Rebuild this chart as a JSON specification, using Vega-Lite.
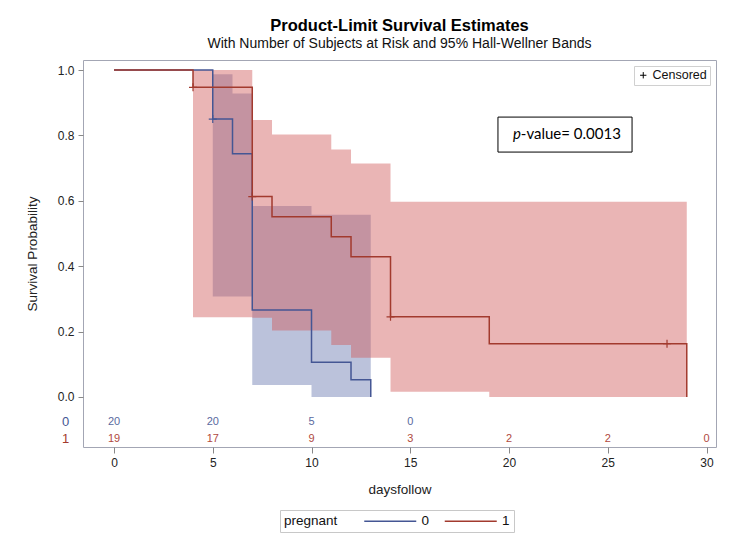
{
  "$schema": "https://vega.github.io/schema/vega-lite/v6.json",
  "width": 633,
  "height": 387,
  "autosize": {"type": "none"},
  "padding": {"left": 83, "top": 60, "right": 20, "bottom": 107},
  "background": "white",
  "title": {
    "text": "Product-Limit Survival Estimates",
    "subtitle": "With Number of Subjects at Risk and 95% Hall-Wellner Bands",
    "anchor": "middle",
    "font": "Liberation Sans",
    "fontSize": 16.5,
    "fontWeight": "bold",
    "color": "#000",
    "subtitleFont": "Liberation Sans",
    "subtitleFontSize": 14,
    "subtitleColor": "#111",
    "offset": 9,
    "subtitlePadding": 3
  },
  "config": {
    "view": {"stroke": "#a3a6b4", "strokeWidth": 1},
    "axis": {
      "labelFont": "Liberation Sans",
      "labelFontSize": 12,
      "labelColor": "#222",
      "titleFont": "Liberation Sans",
      "titleFontSize": 13.5,
      "titleFontWeight": "normal",
      "titleColor": "#222",
      "tickColor": "#888",
      "grid": false,
      "domain": false
    },
    "legend": {
      "labelFont": "Liberation Sans",
      "titleFont": "Liberation Sans"
    }
  },
  "datasets": {
    "surv": [
      {"t": 0, "s": 1, "pregnant": "0"},
      {"t": 5, "s": 0.85, "pregnant": "0"},
      {"t": 6, "s": 0.744, "pregnant": "0"},
      {"t": 7, "s": 0.266, "pregnant": "0"},
      {"t": 10, "s": 0.106, "pregnant": "0"},
      {"t": 12, "s": 0.053, "pregnant": "0"},
      {"t": 13, "s": 0, "pregnant": "0"},
      {"t": 0, "s": 1, "pregnant": "1"},
      {"t": 4, "s": 0.947, "pregnant": "1"},
      {"t": 7, "s": 0.613, "pregnant": "1"},
      {"t": 8, "s": 0.551, "pregnant": "1"},
      {"t": 11, "s": 0.49, "pregnant": "1"},
      {"t": 12, "s": 0.429, "pregnant": "1"},
      {"t": 14, "s": 0.245, "pregnant": "1"},
      {"t": 19, "s": 0.163, "pregnant": "1"},
      {"t": 29, "s": 0, "pregnant": "1"}
    ],
    "band": [
      {"t": 5, "lo": 0.307, "hi": 0.987, "pregnant": "0"},
      {"t": 6, "lo": 0.307, "hi": 0.928, "pregnant": "0"},
      {"t": 7, "lo": 0.037, "hi": 0.584, "pregnant": "0"},
      {"t": 10, "lo": 0, "hi": 0.557, "pregnant": "0"},
      {"t": 13, "lo": 0, "hi": 0.557, "pregnant": "0"},
      {"t": 4, "lo": 0.244, "hi": 1, "pregnant": "1"},
      {"t": 7, "lo": 0.242, "hi": 0.847, "pregnant": "1"},
      {"t": 8, "lo": 0.203, "hi": 0.803, "pregnant": "1"},
      {"t": 11, "lo": 0.159, "hi": 0.757, "pregnant": "1"},
      {"t": 12, "lo": 0.12, "hi": 0.714, "pregnant": "1"},
      {"t": 14, "lo": 0.016, "hi": 0.597, "pregnant": "1"},
      {"t": 19, "lo": 0, "hi": 0.597, "pregnant": "1"},
      {"t": 29, "lo": 0, "hi": 0.597, "pregnant": "1"}
    ],
    "cens": [
      {"t": 5, "s": 0.85, "pregnant": "0", "lab": "Censored"},
      {"t": 4, "s": 0.947, "pregnant": "1", "lab": "Censored"},
      {"t": 7, "s": 0.613, "pregnant": "1", "lab": "Censored"},
      {"t": 14, "s": 0.245, "pregnant": "1", "lab": "Censored"},
      {"t": 28, "s": 0.163, "pregnant": "1", "lab": "Censored"}
    ],
    "risk": [
      {"t": 0, "n": 20, "pregnant": "0"},
      {"t": 5, "n": 20, "pregnant": "0"},
      {"t": 10, "n": 5, "pregnant": "0"},
      {"t": 15, "n": 0, "pregnant": "0"},
      {"t": 0, "n": 19, "pregnant": "1"},
      {"t": 5, "n": 17, "pregnant": "1"},
      {"t": 10, "n": 9, "pregnant": "1"},
      {"t": 15, "n": 3, "pregnant": "1"},
      {"t": 20, "n": 2, "pregnant": "1"},
      {"t": 25, "n": 2, "pregnant": "1"},
      {"t": 30, "n": 0, "pregnant": "1"}
    ],
    "grp": [
      {"pregnant": "0"},
      {"pregnant": "1"}
    ],
    "pval": [
      {"p": "p", "rest": "-value= 0.0013"}
    ]
  },
  "layer": [
    {
      "data": {"name": "band"},
      "transform": [{"filter": "datum.pregnant === '0'"}],
      "mark": {"type": "area", "interpolate": "step-after", "color": "#6F7EB3", "opacity": 0.47},
      "encoding": {
        "x": {"field": "t", "type": "quantitative", "scale": {"domain": [-1.57, 30.48], "nice": false, "zero": false},
              "axis": {"title": "daysfollow", "values": [0, 5, 10, 15, 20, 25, 30], "tickSize": 6, "labelPadding": 4, "titlePadding": 14}},
        "y": {"field": "lo", "type": "quantitative", "scale": {"domain": [-0.153, 1.0306], "nice": false, "zero": false},
              "axis": {"title": "Survival Probability", "values": [0, 0.2, 0.4, 0.6, 0.8, 1.0], "format": ".1f", "tickSize": 5, "labelPadding": 4, "titlePadding": 18}},
        "y2": {"field": "hi"}
      }
    },
    {
      "data": {"name": "band"},
      "transform": [{"filter": "datum.pregnant === '1'"}],
      "mark": {"type": "area", "interpolate": "step-after", "color": "#D05B5B", "opacity": 0.45},
      "encoding": {
        "x": {"field": "t", "type": "quantitative", "title": "daysfollow"},
        "y": {"field": "lo", "type": "quantitative", "title": "Survival Probability"},
        "y2": {"field": "hi"}
      }
    },
    {
      "data": {"name": "surv"},
      "transform": [{"filter": "datum.pregnant === '0'"}],
      "mark": {"type": "line", "interpolate": "step-after", "strokeWidth": 1.5},
      "encoding": {
        "x": {"field": "t", "type": "quantitative", "title": "daysfollow"},
        "y": {"field": "s", "type": "quantitative", "title": "Survival Probability"},
        "color": {"field": "pregnant", "type": "nominal",
                  "scale": {"domain": ["0", "1"], "range": ["#445694", "#A23A2E"]},
                  "legend": {"orient": "none", "legendX": 197, "legendY": 450, "direction": "horizontal", "titleOrient": "left", "title": "pregnant",
                             "symbolType": "M-5.2,0H5.2", "symbolSize": 100, "symbolStrokeWidth": 1.5, "symbolOffset": 20,
                             "labelFontSize": 13.5, "titleFontSize": 13.5, "titleFontWeight": "normal", "titleColor": "#111", "labelColor": "#111",
                             "titlePadding": 25.5, "titleBaseline": "middle",
                             "strokeColor": "#c8c8c8", "padding": 4, "columnPadding": 11.5, "labelOffset": 24.5}}
      }
    },
    {
      "data": {"name": "surv"},
      "transform": [{"filter": "datum.pregnant === '1'"}],
      "mark": {"type": "line", "interpolate": "step-after", "strokeWidth": 1.5},
      "encoding": {
        "x": {"field": "t", "type": "quantitative", "title": "daysfollow"},
        "y": {"field": "s", "type": "quantitative", "title": "Survival Probability"},
        "color": {"field": "pregnant", "type": "nominal"}
      }
    },
    {
      "data": {"name": "cens"},
      "mark": {"type": "point", "filled": false, "strokeWidth": 1.2, "size": 64, "opacity": 1},
      "encoding": {
        "x": {"field": "t", "type": "quantitative", "title": "daysfollow"},
        "y": {"field": "s", "type": "quantitative", "title": "Survival Probability"},
        "shape": {"field": "lab", "type": "nominal",
                  "scale": {"domain": ["Censored"], "range": ["M-1,0H1M0,-1V1"]},
                  "legend": {"orient": "top-right", "title": null, "offset": 6, "padding": 3,
                             "strokeColor": "#d0d0d0", "symbolStrokeColor": "#000", "symbolStrokeWidth": 1,
                             "symbolSize": 40, "labelFontSize": 12.5, "labelColor": "#111", "labelOffset": 3}},
        "stroke": {"field": "pregnant", "type": "nominal",
                   "scale": {"domain": ["0", "1"], "range": ["#445694", "#A23A2E"]}, "legend": null}
      }
    },
    {
      "data": {"name": "risk"},
      "transform": [{"filter": "datum.pregnant === '0'"}],
      "mark": {"type": "text", "font": "Liberation Sans", "fontSize": 11, "color": "#5a6aa0", "baseline": "middle"},
      "encoding": {
        "x": {"field": "t", "type": "quantitative", "title": "daysfollow"},
        "y": {"datum": -0.0765},
        "text": {"field": "n", "type": "quantitative"}
      }
    },
    {
      "data": {"name": "risk"},
      "transform": [{"filter": "datum.pregnant === '1'"}],
      "mark": {"type": "text", "font": "Liberation Sans", "fontSize": 11, "color": "#B04A3E", "baseline": "middle"},
      "encoding": {
        "x": {"field": "t", "type": "quantitative", "title": "daysfollow"},
        "y": {"datum": -0.128},
        "text": {"field": "n", "type": "quantitative"}
      }
    },
    {
      "data": {"name": "grp"},
      "transform": [{"filter": "datum.pregnant === '0'"}],
      "mark": {"type": "text", "font": "Liberation Sans", "fontSize": 13, "color": "#445694", "baseline": "middle"},
      "encoding": {
        "x": {"datum": -2.45},
        "y": {"datum": -0.0765},
        "text": {"field": "pregnant", "type": "nominal"}
      }
    },
    {
      "data": {"name": "grp"},
      "transform": [{"filter": "datum.pregnant === '1'"}],
      "mark": {"type": "text", "font": "Liberation Sans", "fontSize": 13, "color": "#A23A2E", "baseline": "middle"},
      "encoding": {
        "x": {"datum": -2.45},
        "y": {"datum": -0.128},
        "text": {"field": "pregnant", "type": "nominal"}
      }
    },
    {
      "data": {"name": "pval"},
      "mark": {"type": "rect", "fill": "white", "stroke": "#000", "strokeWidth": 1},
      "encoding": {
        "x": {"datum": 19.44},
        "x2": {"datum": 26.23},
        "y": {"datum": 0.856},
        "y2": {"datum": 0.749}
      }
    },
    {
      "data": {"name": "pval"},
      "mark": {"type": "text", "font": "Lato", "fontSize": 15, "fontStyle": "italic", "color": "#000", "align": "right", "baseline": "middle"},
      "encoding": {
        "x": {"datum": 20.6},
        "y": {"datum": 0.803},
        "text": {"field": "p", "type": "nominal"}
      }
    },
    {
      "data": {"name": "pval"},
      "mark": {"type": "text", "font": "Lato", "fontSize": 15, "color": "#000", "align": "left", "baseline": "middle"},
      "encoding": {
        "x": {"datum": 20.6},
        "y": {"datum": 0.803},
        "text": {"field": "rest", "type": "nominal"}
      }
    }
  ]
}
